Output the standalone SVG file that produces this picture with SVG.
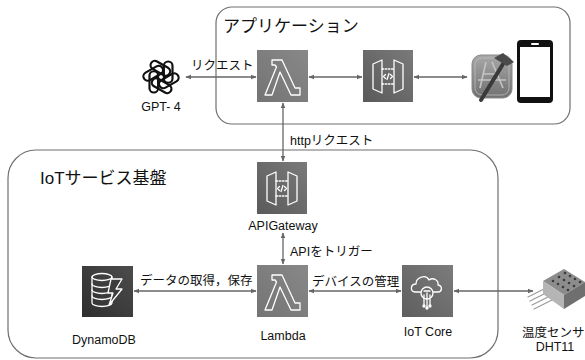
<svg xmlns="http://www.w3.org/2000/svg" width="585" height="360" viewBox="0 0 585 360">
  <style>
    .container { fill: none; stroke: #6f6f6f; stroke-width: 1.2; }
    .title { font-family: "Liberation Sans", "Noto Sans CJK JP", sans-serif; font-size: 17px; fill: #111; }
    .label { font-family: "Liberation Sans", "Noto Sans CJK JP", sans-serif; font-size: 12.5px; fill: #111; }
    .edge { fill: none; stroke: #666; stroke-width: 1.3; }
    .glyph { fill: none; stroke: #fff; stroke-width: 1.3; stroke-linejoin: round; stroke-linecap: round; }
  </style>
  <defs>
    <marker id="arrow" viewBox="0 0 10 10" refX="9" refY="5" markerWidth="6" markerHeight="6" markerUnits="userSpaceOnUse" orient="auto-start-reverse">
      <path d="M0,1 L10,5 L0,9 Z" fill="#666"/>
    </marker>
    <linearGradient id="gLambda" x1="0" y1="1" x2="1" y2="0">
      <stop offset="0" stop-color="#747474"/>
      <stop offset="1" stop-color="#888"/>
    </linearGradient>
    <linearGradient id="gApi" x1="0" y1="1" x2="1" y2="0">
      <stop offset="0" stop-color="#5a5a5a"/>
      <stop offset="1" stop-color="#7a7a7a"/>
    </linearGradient>
    <linearGradient id="gDynamo" x1="0" y1="1" x2="1" y2="0">
      <stop offset="0" stop-color="#2e2e2e"/>
      <stop offset="1" stop-color="#4c4c4c"/>
    </linearGradient>
    <linearGradient id="gIot" x1="0" y1="1" x2="1" y2="0">
      <stop offset="0" stop-color="#5e5e5e"/>
      <stop offset="1" stop-color="#7c7c7c"/>
    </linearGradient>
    <linearGradient id="gXcode" x1="0" y1="0" x2="0" y2="1">
      <stop offset="0" stop-color="#a8a8a8"/>
      <stop offset="1" stop-color="#707070"/>
    </linearGradient>

    <!-- Lambda tile -->
    <g id="lambdaIcon">
      <rect width="51" height="52" fill="url(#gLambda)"/>
      <path class="glyph" d="M15,10 H25 L38,38 H43 V45 H34 L23,22 L15,45 H8 L19.5,17 L18,15 H15 Z"/>
    </g>
    <!-- API Gateway tile -->
    <g id="apiIcon">
      <rect width="50" height="52" fill="url(#gApi)"/>
      <path class="glyph" d="M10,14 L19,10 V43 L10,39 Z M31,10 L40,14 V39 L31,43 Z"/>
      <path class="glyph" stroke-dasharray="1.6 1.6" d="M19,19 H31 M19,34 H31"/>
      <path class="glyph" stroke-width="1" d="M22.5,24.5 L20.5,26.5 L22.5,28.5 M26,23.5 L24,29.5 M27.5,24.5 L29.5,26.5 L27.5,28.5"/>
    </g>
    <!-- one loop of the GPT knot -->
    <rect id="knotLoop" x="2.5" y="-13.5" width="7.5" height="18.5" rx="3.75"/>
  </defs>

  <!-- containers -->
  <g id="app-area">
    <rect class="container" x="216" y="7" width="354" height="117" rx="16"/>
    <text class="title" x="223" y="32">アプリケーション</text>
  </g>
  <g id="iot-area">
    <rect class="container" x="8" y="150" width="490" height="208" rx="28"/>
    <text class="title" x="40" y="184">IoTサービス基盤</text>
  </g>

  <!-- connectors -->
  <g id="connectors">
    <line class="edge" x1="186" y1="77" x2="256" y2="77" marker-start="url(#arrow)" marker-end="url(#arrow)"/>
    <line class="edge" x1="309" y1="77" x2="362" y2="77" marker-start="url(#arrow)" marker-end="url(#arrow)"/>
    <line class="edge" x1="414" y1="77" x2="467" y2="77" marker-start="url(#arrow)" marker-end="url(#arrow)"/>
    <line class="edge" x1="283" y1="103" x2="283" y2="161" marker-start="url(#arrow)" marker-end="url(#arrow)"/>
    <line class="edge" x1="283" y1="233" x2="283" y2="264" marker-start="url(#arrow)" marker-end="url(#arrow)"/>
    <line class="edge" x1="134" y1="291" x2="256" y2="291" marker-start="url(#arrow)" marker-end="url(#arrow)"/>
    <line class="edge" x1="309" y1="291" x2="401" y2="291" marker-start="url(#arrow)" marker-end="url(#arrow)"/>
    <line class="edge" x1="454" y1="291" x2="533" y2="291" marker-start="url(#arrow)" marker-end="url(#arrow)"/>
    <text class="label" x="191" y="70">リクエスト</text>
    <text class="label" x="290" y="145">httpリクエスト</text>
    <text class="label" x="290" y="256">APIをトリガー</text>
    <text class="label" x="140" y="285">データの取得，保存</text>
    <text class="label" x="312" y="286">デバイスの管理</text>
  </g>

  <!-- GPT-4 -->
  <g id="gpt4">
    <g transform="translate(161,77) scale(1.15)" fill="none" stroke="#111" stroke-width="1.9">
      <use href="#knotLoop"/>
      <use href="#knotLoop" transform="rotate(60)"/>
      <use href="#knotLoop" transform="rotate(120)"/>
      <use href="#knotLoop" transform="rotate(180)"/>
      <use href="#knotLoop" transform="rotate(240)"/>
      <use href="#knotLoop" transform="rotate(300)"/>
    </g>
    <text class="label" x="161" y="111" font-size="13" text-anchor="middle">GPT- 4</text>
  </g>

  <!-- app-side Lambda -->
  <g id="lambda-app">
    <use href="#lambdaIcon" x="257" y="50"/>
  </g>

  <!-- app-side API Gateway -->
  <g id="apigw-app">
    <use href="#apiIcon" x="363" y="50"/>
  </g>

  <!-- iOS app: Xcode + iPhone -->
  <g id="ios-app">
    <rect x="472" y="55" width="40" height="43" rx="9" fill="url(#gXcode)" stroke="#8a8a8a" stroke-width="1"/>
    <rect x="475" y="58" width="34" height="37" rx="7" fill="none" stroke="#bdbdbd" stroke-width="0.8"/>
    <path d="M486,62 L480,88 M492,62 L503,88 M478,80 H506 M484,74 L497,74" fill="none" stroke="#c4c4c4" stroke-width="1.6"/>
    <line x1="481" y1="100" x2="503" y2="64" stroke="#3a3a3a" stroke-width="4" stroke-linecap="round"/>
    <path d="M494,58 L503,53 L514,62 L507,66 Z" fill="#4a4a4a"/>
    <rect x="517" y="40" width="36" height="63" rx="4" fill="#111"/>
    <rect x="520" y="47" width="30" height="50" fill="#fff"/>
    <rect x="531" y="43" width="8" height="2" rx="1" fill="#fff"/>
  </g>

  <!-- API Gateway (IoT side) -->
  <g id="apigw">
    <use href="#apiIcon" x="257" y="162"/>
    <text class="label" x="283" y="230" text-anchor="middle">APIGateway</text>
  </g>

  <!-- Lambda (IoT side) -->
  <g id="lambda">
    <use href="#lambdaIcon" x="257" y="265"/>
    <text class="label" x="283" y="340" text-anchor="middle">Lambda</text>
  </g>

  <!-- DynamoDB -->
  <g id="dynamodb">
    <rect x="82" y="266" width="51" height="51" fill="url(#gDynamo)"/>
    <g class="glyph" transform="translate(82,266)">
      <ellipse cx="20" cy="11" rx="10" ry="3.5"/>
      <path d="M10,11 V37 A10,3.5 0 0 0 30,37 V11"/>
      <path d="M10,18 A10,3.5 0 0 0 30,18 M10,24 A10,3.5 0 0 0 30,24 M10,30 A10,3.5 0 0 0 30,30"/>
      <path d="M29,13 H40 L34,23 H40 L27,39 L31,27 H26 Z" fill="#3c3c3c"/>
    </g>
    <text class="label" x="104" y="344" text-anchor="middle">DynamoDB</text>
  </g>

  <!-- IoT Core -->
  <g id="iot-core">
    <rect x="402" y="265" width="51" height="52" fill="url(#gIot)"/>
    <g class="glyph" transform="translate(402,265)">
      <path d="M19,27 H13 C8,27 8,19 14,19 C14,12 24,9 27,15 C31,12 37,15 36,20 C41,21 40,27 36,27 H31"/>
      <circle cx="25" cy="28" r="6"/>
      <path d="M22,30 V40 M25,28 V42 M28,30 V40 M22,26 H28"/>
      <circle cx="22" cy="41" r="1" fill="#fff"/>
      <circle cx="28" cy="41" r="1" fill="#fff"/>
      <circle cx="25" cy="43" r="1" fill="#fff"/>
    </g>
    <text class="label" x="428" y="336" text-anchor="middle">IoT Core</text>
  </g>

  <!-- DHT11 temperature sensor -->
  <g id="sensor">
    <g stroke="#9a9a9a" stroke-width="1.2" stroke-linecap="round">
      <line x1="546" y1="288" x2="528" y2="297"/>
      <line x1="548" y1="292" x2="530" y2="301"/>
      <line x1="550" y1="296" x2="532" y2="305"/>
      <line x1="552" y1="300" x2="534" y2="309"/>
    </g>
    <polygon points="543,281 564,269 585,282 564,295" fill="#8c8c8c"/>
    <polygon points="543,281 564,295 564,309 543,294" fill="#b5b5b5"/>
    <polygon points="564,295 585,282 585,296 564,309" fill="#6f6f6f"/>
    <g fill="#3a3a3a">
      <circle cx="553" cy="281" r="1.3"/><circle cx="559" cy="277" r="1.3"/><circle cx="565" cy="273" r="1.3"/>
      <circle cx="558" cy="284" r="1.3"/><circle cx="564" cy="280" r="1.3"/><circle cx="570" cy="276" r="1.3"/>
      <circle cx="563" cy="287" r="1.3"/><circle cx="569" cy="283" r="1.3"/><circle cx="575" cy="279" r="1.3"/>
      <circle cx="568" cy="290" r="1.3"/><circle cx="574" cy="286" r="1.3"/><circle cx="580" cy="282" r="1.3"/>
    </g>
    <text class="label" x="522" y="337" font-size="12">温度センサ</text>
    <text class="label" x="555" y="351" text-anchor="middle">DHT11</text>
  </g>
</svg>
